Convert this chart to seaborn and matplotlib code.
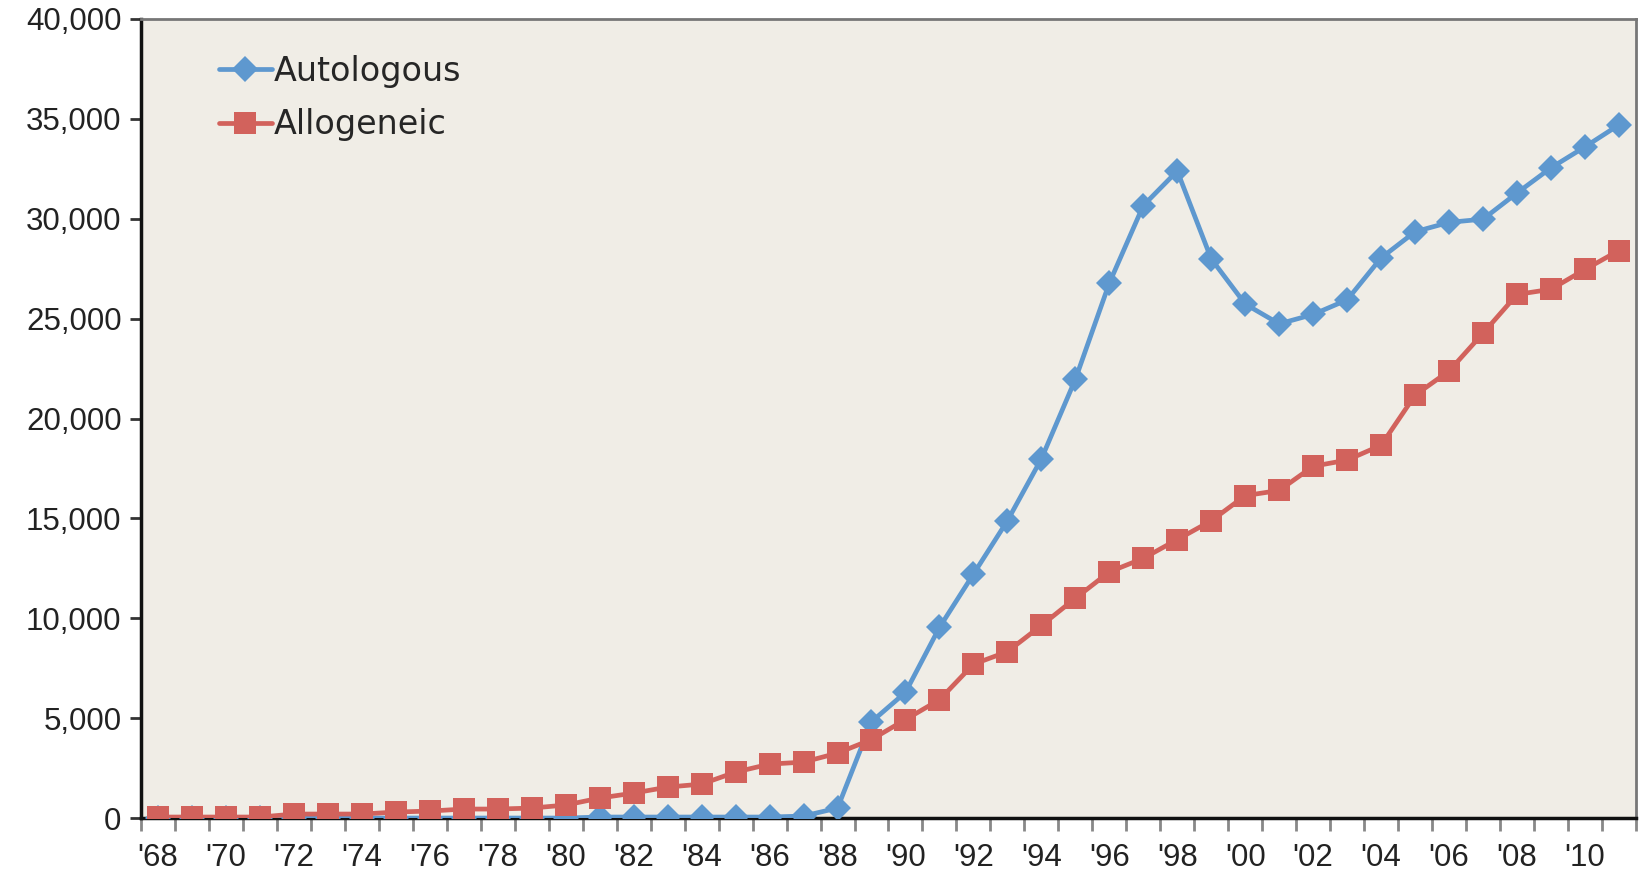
import numpy as np
import pandas as pd
import matplotlib
matplotlib.use("Agg")
import matplotlib.pyplot as plt
from matplotlib.ticker import FuncFormatter, MultipleLocator
import seaborn as sns

years = list(range(1968, 2012))
autologous = [0, 0, 0, 0, 0, 0, 0, 0, 0, 0,
              0, 0, 0, 50, 50, 50, 50, 50, 50, 100,
              500, 4820, 6290, 9540, 12210, 14880, 17980, 21960, 26780, 30660,
              32390, 27990, 25730, 24740, 25210, 25940, 28040, 29350, 29820, 29980,
              31290, 32550, 33600, 34700]
allogeneic = [50, 50, 50, 50, 200, 200, 200, 300, 350, 450,
              450, 500, 650, 1000, 1250, 1550, 1700, 2300, 2700, 2800,
              3250, 3930, 4930, 5920, 7700, 8330, 9640, 11000, 12320, 13000,
              13940, 14880, 16140, 16400, 17610, 17920, 18660, 21170, 22380, 24270,
              26210, 26470, 27460, 28410]
tick_labels = ["'%02d" % (y % 100) for y in years[::2]]

blue = "#5E98CF"
red = "#D2625C"
bg = "#F0EDE6"

sns.set_style("white")
plt.rcParams['font.family'] = ['DejaVu Sans']

fig = plt.figure(figsize=(16.42, 8.71), dpi=100)
ax = fig.add_axes([0.0859, 0.0608, 0.9104, 0.9174])
ax.set_facecolor(bg)

idx = np.arange(len(years))
sns.lineplot(x=idx, y=autologous, ax=ax, color=blue, lw=3.4, marker="D",
             markersize=13, markeredgewidth=0, label="Autologous", zorder=3)
sns.lineplot(x=idx, y=allogeneic, ax=ax, color=red, lw=3.4, marker="s",
             markersize=16, markeredgewidth=0, label="Allogeneic", zorder=4)

ax.set_xlim(-0.5, len(years) - 0.5)
ax.set_ylim(0, 40000)
ax.yaxis.set_major_locator(MultipleLocator(5000))
ax.yaxis.set_major_formatter(FuncFormatter(lambda v, p: f"{int(v):,}"))

ax.set_xticks(idx[::2])
ax.set_xticklabels(tick_labels)
ax.set_xticks(np.arange(-0.5, len(years), 1), minor=True)

for lab in ax.get_xticklabels() + ax.get_yticklabels():
    lab.set_family(['Liberation Sans', 'DejaVu Sans'])
    lab.set_fontsize(22.5)
    lab.set_color("#222222")

ax.tick_params(axis="y", which="major", direction="out", length=8, width=2,
               color="#333333", left=True, pad=6)
ax.tick_params(axis="x", which="major", length=0, pad=18)
ax.tick_params(axis="x", which="minor", direction="out", length=9, width=2,
               color="#888888", bottom=True)

for s in ["left", "bottom"]:
    ax.spines[s].set_color("#111111")
    ax.spines[s].set_linewidth(2.5)
for s in ["top", "right"]:
    ax.spines[s].set_color("#777777")
    ax.spines[s].set_linewidth(2)

ax.set_xlabel("")
ax.set_ylabel("")
ax.legend(loc="upper left", bbox_to_anchor=(0.043, 0.972), frameon=False,
          fontsize=24, handlelength=1.6, handletextpad=0.05, labelspacing=0.62,
          borderaxespad=0)

fig.savefig("out.png", dpi=100, facecolor="white")
